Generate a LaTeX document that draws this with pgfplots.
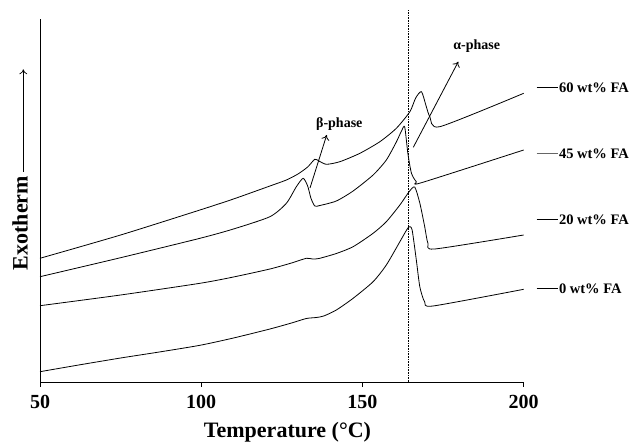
\documentclass[border=0pt]{standalone}
\usepackage{fontspec}
\setmainfont{Liberation Serif}
\usepackage{pgfplots}
\pgfplotsset{compat=1.18}
\usetikzlibrary{arrows.meta}

% DSC curves (arbitrary heat-flow units, 1 unit = 1pt)
\pgfplotstableread{
T Y
50 10.3
62 17
75 24
87 30
99.6 36.7
110 44
121.3 53
128 59
132.6 63.5
135.7 64.5
138 66
141.9 72
147.1 83.7
153.3 100.3
157.4 117
161.6 140.3
163.5 151
164.5 155.3
165.4 152
166.7 122
167.8 95
169.3 80
171.9 76
200 92.7
}\faZero
\pgfplotstableread{
T Y
50 76.3
75 87
99.6 98.7
110 105
121.3 113
128 119
132.6 123.7
134.5 123
136.5 123.5
141.9 128.5
147.1 135.3
153.3 148.7
157.4 160.3
161.6 177
164.4 190
166.2 195
167.8 178.7
169.3 155.3
170.3 138.7
172.4 133
200 147
}\faTwenty
\pgfplotstableread{
T Y
50 105.3
75 124.3
99.6 143.7
110 153
121.3 165.3
126.4 178.7
129.5 195.3
131.6 203.7
133 196
134 184
135.2 176
136.8 176.5
141.9 181
147.1 191
153.3 207
157.4 222
160.5 240
162.1 251
163.1 255
164.1 228
165.2 208.7
166.7 200.3
168.3 199.3
200 232
}\faFortyFive
\pgfplotstableread{
T Y
50 123.7
75 147
99.6 172
110 183
121.3 196
126.4 202
130 208
133 215
135.2 222.7
136.5 221
138.8 217.7
143 220.3
149.2 228.7
155.4 240.3
160.5 253.7
164.7 270.3
166.5 284
168.3 290.3
169.8 275.3
170.9 265.3
174 255.3
200 288.7
}\faSixty

\begin{document}
\begin{tikzpicture}
\useasboundingbox (-40pt,-62pt) rectangle (592pt,382pt);
\begin{axis}[
  scale only axis,
  width=483.7pt,
  height=363pt,
  xmin=50, xmax=200,
  ymin=0, ymax=363,
  axis x line=bottom,
  axis y line=left,
  axis line style={-, line width=0.8pt},
  xtick={50,100,150,200},
  ytick=\empty,
  tick align=outside,
  major tick length=5pt,
  tick style={line width=0.8pt, black},
  /pgf/number format/assume math mode=true,
  xticklabel style={font=\fontsize{20}{20}\selectfont\bfseries, yshift=-5pt},
  clip=false,
]
\addplot[black, line width=0.8pt, smooth, tension=0.4] table[x=T, y=Y] {\faZero};
\addplot[black, line width=0.8pt, smooth, tension=0.4] table[x=T, y=Y] {\faTwenty};
\addplot[black, line width=0.8pt, smooth, tension=0.4] table[x=T, y=Y] {\faFortyFive};
\addplot[black, line width=0.8pt, smooth, tension=0.4] table[x=T, y=Y] {\faSixty};
\draw[black, line width=0.6pt, densely dotted] (axis cs:164.1,0) -- (axis cs:164.1,372);
\end{axis}

% axis titles
\node[font=\fontsize{22}{22}\selectfont\bfseries] at (247.5pt,-50pt) {Temperature (°C)};
\node[font=\fontsize{22}{22}\selectfont\bfseries, rotate=90] at (-20pt,159pt) {Exotherm};
\draw[line width=0.7pt, -{To[length=5pt,width=8pt]}] (-16.7pt,210.3pt) -- (-16.7pt,312.7pt);

% phase annotations
\node[font=\fontsize{14}{14}\selectfont\bfseries] at (436.7pt,336pt) {α-phase};
\draw[line width=0.8pt, -{To[length=5pt,width=8pt]}] (373.3pt,234.7pt) -- (418.3pt,320.3pt);
\node[font=\fontsize{14}{14}\selectfont\bfseries] at (299.3pt,258pt) {β-phase};
\draw[line width=0.8pt, -{To[length=5pt,width=8pt]}] (270pt,194pt) -- (286.7pt,247pt);

% labels at the right
\foreach \yy/\lab/\col in {294.7/60 wt\% FA/black, 228.7/45 wt\% FA/black!60, 162.7/20 wt\% FA/black, 93.7/0 wt\% FA/black} {
  \draw[\col, line width=0.8pt] (496.7pt,\yy pt) -- (518.3pt,\yy pt);
  \node[anchor=west, inner sep=0pt, font=\fontsize{14.5}{14.5}\selectfont\bfseries] at (518.8pt,\yy pt) {\lab};
}
\end{tikzpicture}
\end{document}
